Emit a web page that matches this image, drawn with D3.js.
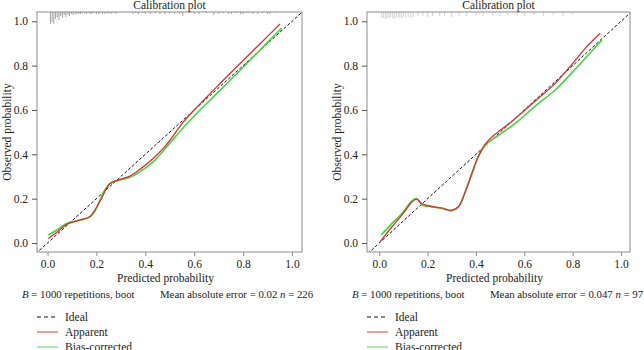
<!DOCTYPE html>
<html>
<head>
<meta charset="utf-8">
<script src="https://cdn.jsdelivr.net/npm/d3@7"></script>
<style>
  body { margin: 0; background: #fff; }
  text { font-family: "Liberation Serif", "DejaVu Serif", serif; fill: #222; }
</style>
</head>
<body>
<div id="chart"></div>
<script>
// tick labels shared by both panels
var ticks = [0, 0.2, 0.4, 0.6, 0.8, 1.0];
var legendLabels = ["Ideal", "Apparent", "Bias-corrected"];

// left panel (n = 226)
var apparentA = [[0.003,0.02],[0.04,0.05],[0.08,0.085],[0.13,0.103],[0.174,0.12],[0.215,0.19],[0.256,0.268],[0.297,0.287],[0.337,0.302],[0.378,0.332],[0.433,0.382],[0.488,0.445],[0.555,0.545],[0.6,0.6],[0.7,0.713],[0.8,0.823],[0.9,0.932],[0.951,0.988]];
var biasA = [[0.003,0.036],[0.04,0.06],[0.078,0.088],[0.133,0.103],[0.174,0.118],[0.195,0.145],[0.215,0.194],[0.235,0.24],[0.256,0.269],[0.297,0.284],[0.337,0.296],[0.378,0.321],[0.433,0.367],[0.488,0.434],[0.555,0.52],[0.6,0.573],[0.7,0.683],[0.8,0.793],[0.9,0.905],[0.958,0.969]];
var rugAx = [0.012,0.019,0.026,0.033,0.04,0.047,0.054,0.061,0.068,0.075,0.083,0.09,0.098,0.105,0.113,0.12,0.128,0.135,0.142,0.15,0.16,0.167,0.175,0.182,0.19,0.2,0.21,0.216,0.225,0.235,0.242,0.25,0.26,0.27,0.28,0.35,0.36,0.372,0.39,0.4,0.42,0.44,0.46,0.48,0.5,0.52,0.54,0.553,0.58,0.6,0.62,0.65,0.68,0.7,0.72,0.74,0.752,0.77,0.79,0.8,0.82,0.84,0.86,0.88,0.9,0.91,0.93];
var rugAn = [12,10,12,7,5,8,4,6,3,5,3,4,2,3,2,2,2,2,1,2,2,1,2,2,1,2,2,1,2,2,1,2,2,1,2,2,1,2,1,2,2,1,2,2,1,2,2,4,1,2,2,1,3,2,1,2,2,1,2,2,1,2,2,1,2,2,1];

// right panel (n = 97)
var apparentB = [[0.003,0.005],[0.05,0.07],[0.1,0.135],[0.135,0.185],[0.155,0.198],[0.177,0.177],[0.218,0.165],[0.259,0.158],[0.3,0.148],[0.328,0.165],[0.356,0.232],[0.384,0.318],[0.41,0.392],[0.439,0.447],[0.466,0.478],[0.55,0.55],[0.65,0.645],[0.728,0.72],[0.8,0.81],[0.852,0.878],[0.914,0.946]];
var biasB = [[0.008,0.036],[0.05,0.085],[0.094,0.134],[0.135,0.19],[0.155,0.2],[0.177,0.171],[0.218,0.163],[0.259,0.156],[0.3,0.145],[0.328,0.163],[0.356,0.231],[0.384,0.314],[0.41,0.389],[0.439,0.442],[0.466,0.465],[0.563,0.54],[0.65,0.622],[0.728,0.69],[0.8,0.772],[0.921,0.916]];
var rugBx = [0.01,0.018,0.025,0.032,0.04,0.047,0.055,0.062,0.07,0.078,0.085,0.093,0.1,0.11,0.12,0.13,0.14,0.16,0.18,0.2,0.22,0.25,0.27,0.3,0.33,0.36,0.4,0.43,0.47,0.5,0.53,0.57,0.6,0.64,0.68,0.72,0.76,0.8];
var rugBn = [6,6,7,6,6,5,6,7,6,5,6,6,5,6,5,6,5,4,4,5,4,4,4,5,4,4,4,4,4,4,3,4,4,3,4,3,4,3];

var panels = [
  {box: [37, 302], x0: 47.5, x1: 292, apparent: apparentA, bias: biasA, rugX: rugAx, rugN: rugAn, rugColor: "#8a8a8a",
   mae: "0.02", n: "226"},
  {box: [367, 630], x0: 379.3, x1: 621, apparent: apparentB, bias: biasB, rugX: rugBx, rugN: rugBn, rugColor: "#c8c8c8",
   mae: "0.047", n: "97"}
];

var width = 644, height = 350;
var plotTop = 12, plotBottom = 252;

var svg = d3.select("#chart").append("svg")
  .attr("width", width)
  .attr("height", height);

svg.append("rect").attr("width", width).attr("height", height).attr("fill", "#fff");

panels.forEach(function(p, i) {
  var ox = p.box[0] - 37; // horizontal offset of this panel
  var x = d3.scaleLinear().domain([0, 1]).range([p.x0, p.x1]);
  var y = d3.scaleLinear().domain([0, 1]).range([243, 21.3]);

  var g = svg.append("g");

  g.append("clipPath").attr("id", "clip" + i)
    .append("rect")
    .attr("x", p.box[0]).attr("y", plotTop)
    .attr("width", p.box[1] - p.box[0]).attr("height", plotBottom - plotTop);

  // rug of predicted values hanging from the top edge
  g.selectAll(".rug").data(p.rugX).enter().append("line")
    .attr("class", "rug")
    .attr("x1", function(d) { return x(d); })
    .attr("x2", function(d) { return x(d); })
    .attr("y1", plotTop)
    .attr("y2", function(d, j) { return plotTop + p.rugN[j]; })
    .attr("stroke", p.rugColor)
    .attr("stroke-width", 0.8);

  var line = d3.line()
    .x(function(d) { return x(d[0]); })
    .y(function(d) { return y(d[1]); })
    .curve(d3.curveCatmullRom.alpha(0.5));

  // ideal line
  g.append("line")
    .attr("clip-path", "url(#clip" + i + ")")
    .attr("x1", x(-0.2)).attr("y1", y(-0.2))
    .attr("x2", x(1.2)).attr("y2", y(1.2))
    .attr("stroke", "#111").attr("stroke-width", 1)
    .attr("stroke-dasharray", "3,2");

  g.append("path").datum(p.bias)
    .attr("d", line).attr("fill", "none")
    .attr("stroke", "#45d43f").attr("stroke-width", 1.6);

  g.append("path").datum(p.apparent)
    .attr("d", line).attr("fill", "none")
    .attr("stroke", "#dd2f2f").attr("stroke-width", 1.3);

  // box
  g.append("rect")
    .attr("x", p.box[0]).attr("y", plotTop)
    .attr("width", p.box[1] - p.box[0]).attr("height", plotBottom - plotTop)
    .attr("fill", "none").attr("stroke", "#8c8c8c").attr("stroke-width", 1);

  // axes
  var xaxis = d3.axisBottom(x).tickValues(ticks).tickFormat(d3.format(".1f")).tickSize(4).tickPadding(4);
  var gx = g.append("g").attr("transform", "translate(0," + plotBottom + ")").call(xaxis);
  gx.select(".domain").remove();
  gx.selectAll(".tick line").attr("stroke", "#8c8c8c");
  gx.selectAll("text").attr("font-size", 11.5).attr("fill", "#333");

  var yaxis = d3.axisLeft(y).tickValues(ticks).tickFormat(d3.format(".1f")).tickSize(5).tickPadding(4);
  var gy = g.append("g").attr("transform", "translate(" + p.box[0] + ",0)").call(yaxis);
  gy.select(".domain").remove();
  gy.selectAll(".tick line").attr("stroke", "#555");
  gy.selectAll("text").attr("font-size", 11.5).attr("fill", "#333");

  var cx = (p.box[0] + p.box[1]) / 2;

  g.append("text")
    .attr("x", cx).attr("y", 9)
    .attr("text-anchor", "middle")
    .attr("font-size", 11.5)
    .text("Calibration plot");

  g.append("text")
    .attr("x", cx - 4).attr("y", 282)
    .attr("text-anchor", "middle")
    .attr("font-size", 11.5)
    .text("Predicted probability");

  g.append("text")
    .attr("transform", "translate(" + (11 + ox) + ",132) rotate(-90)")
    .attr("text-anchor", "middle")
    .attr("font-size", 11.5)
    .text("Observed probability");

  // subtitle
  var sub1 = g.append("text").attr("x", 22 + ox).attr("y", 298).attr("font-size", 10.8);
  sub1.append("tspan").attr("font-style", "italic").text("B");
  sub1.append("tspan").text(" = 1000 repetitions, boot");

  var sub2 = g.append("text").attr("x", 160 + ox).attr("y", 298).attr("font-size", 10.8);
  sub2.append("tspan").text("Mean absolute error = " + p.mae + " ");
  sub2.append("tspan").attr("font-style", "italic").text("n");
  sub2.append("tspan").text(" = " + p.n);

  // legend
  var legendColors = ["#111", "#c8473f", "#5ccf58"];
  legendLabels.forEach(function(lab, j) {
    var ly = 317 + j * 15;
    g.append("line")
      .attr("x1", 37 + ox).attr("x2", 58 + ox)
      .attr("y1", ly).attr("y2", ly)
      .attr("stroke", legendColors[j]).attr("stroke-width", 1)
      .attr("stroke-dasharray", j === 0 ? "4,3" : null);
    g.append("text")
      .attr("x", 65 + ox).attr("y", ly + 4)
      .attr("font-size", 11.5)
      .text(lab);
  });
});
</script>
</body>
</html>
